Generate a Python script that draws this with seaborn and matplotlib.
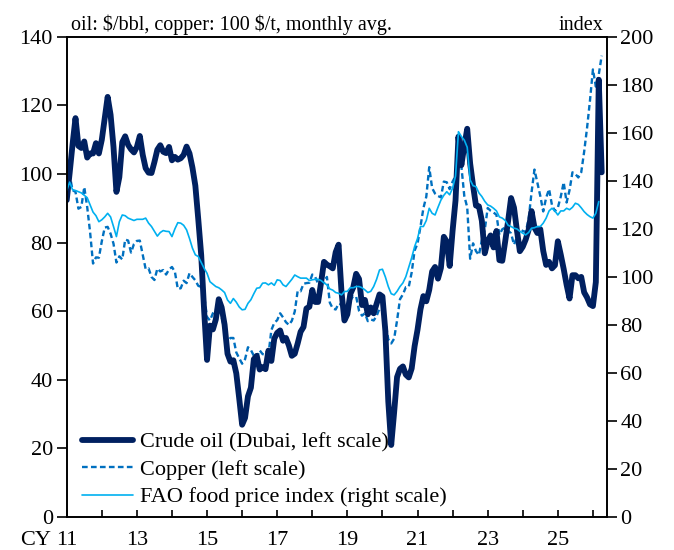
import numpy as np
import pandas as pd
import matplotlib
matplotlib.use("Agg")
import matplotlib.pyplot as plt
import seaborn as sns

# monthly averages, Jan 2011 onwards
# crude oil, Dubai ($/bbl)
oil = [
    92.4, 100.3, 108.7, 116.3, 108.2, 107.6, 109.5, 104.8, 106.0, 106.0, 109.0, 106.0,   # 2011
    110.0, 116.2, 122.5, 117.3, 107.9, 94.8, 99.1, 109.3, 111.0, 108.5, 107.2, 106.3,    # 2012
    107.9, 111.1, 105.6, 101.7, 100.4, 100.3, 103.5, 107.1, 108.4, 106.5, 106.1, 107.9,  # 2013
    104.0, 105.0, 104.2, 104.6, 105.6, 108.0, 106.0, 101.9, 96.6, 86.8, 76.4, 60.3,      # 2014
    45.8, 55.8, 54.7, 57.6, 63.5, 61.1, 56.1, 47.6, 45.3, 45.7, 41.9, 34.6,              # 2015
    26.9, 28.9, 35.2, 37.7, 46.0, 47.0, 43.0, 43.7, 43.1, 48.5, 45.5, 52.0,              # 2016
    53.7, 54.4, 51.4, 52.2, 50.0, 47.0, 47.6, 50.6, 54.0, 55.4, 60.8, 61.3,              # 2017
    66.2, 62.7, 62.7, 68.3, 74.4, 73.6, 73.1, 72.5, 77.2, 79.4, 65.6, 57.3,              # 2018
    59.1, 65.0, 66.9, 70.9, 69.4, 61.8, 63.3, 59.1, 61.1, 59.4, 62.1, 64.9,              # 2019
    64.3, 54.2, 33.7, 21.0, 30.5, 40.8, 43.2, 43.9, 41.5, 40.7, 43.3, 49.8,              # 2020
    54.6, 60.5, 64.4, 62.9, 66.2, 71.6, 72.9, 69.5, 72.6, 81.7, 80.3, 73.2,              # 2021
    83.5, 92.3, 110.9, 102.6, 108.2, 113.2, 103.1, 96.6, 90.8, 90.6, 86.4, 76.9,         # 2022
    80.4, 82.1, 78.6, 83.4, 74.9, 74.7, 80.4, 86.4, 93.0, 90.2, 83.6, 77.5,              # 2023
    78.8, 80.9, 83.7, 89.2, 84.4, 82.8, 83.9, 77.6, 73.5, 74.4, 72.5, 73.4,              # 2024
    80.4, 76.5, 72.3, 67.7, 63.7, 70.5, 70.5, 69.6, 70.0, 65.5, 64.0, 62.0,              # 2025
    61.5, 68.5, 127.5, 100.5,                                                            # 2026
]

# copper (100 $/t)
copper = [
    96.5, 99.7, 95.3, 94.8, 89.9, 90.4, 96.2, 90.4, 83.0, 73.9, 75.7, 75.6,
    80.4, 84.4, 84.6, 82.6, 79.7, 74.2, 76.0, 75.1, 80.9, 80.6, 77.1, 79.6,
    80.5, 80.6, 76.5, 72.3, 72.5, 70.0, 69.1, 72.4, 71.6, 72.0, 70.7, 72.2,
    72.9, 71.5, 66.5, 66.7, 68.9, 68.2, 71.1, 70.0, 69.0, 67.4, 67.1, 64.5,
    58.3, 57.3, 59.4, 60.4, 63.0, 58.3, 54.6, 51.3, 52.2, 52.2, 48.0, 46.3,
    44.7, 46.0, 49.5, 48.7, 47.0, 46.4, 48.6, 47.5, 47.2, 47.3, 54.5, 56.6,
    57.4, 59.4, 58.2, 56.8, 56.0, 57.2, 59.9, 65.9, 65.8, 68.0, 68.2, 68.3,
    70.7, 70.0, 68.0, 68.5, 68.3, 70.0, 62.5, 60.8, 60.5, 62.2, 61.9, 61.5,
    59.3, 63.1, 64.4, 64.3, 60.1, 58.7, 59.4, 57.1, 57.6, 57.3, 58.6, 60.8,
    60.3, 56.9, 51.8, 50.6, 52.0, 57.3, 63.5, 64.9, 67.0, 67.1, 71.3, 77.7,
    79.7, 84.6, 90.0, 93.4, 102.0, 95.9, 94.3, 93.6, 93.2, 97.8, 97.6, 95.6,
    97.8, 99.4, 101.6, 102.3, 93.6, 90.3, 75.3, 79.8, 77.5, 76.4, 80.7, 83.7,
    90.1, 89.3, 88.8, 88.1, 82.3, 83.9, 84.4, 83.5, 82.7, 79.4, 81.6, 83.9,
    83.4, 83.1, 86.8, 94.6, 101.3, 97.5, 93.6, 89.1, 93.1, 95.6, 90.9, 89.2,
    90.2, 93.4, 97.6, 91.7, 95.3, 100.5, 100.0, 99.0, 100.5, 106.5, 113.5, 121.5,
    130.5, 125.5, 129.0, 134.5,
]

# FAO food price index
food = [
    136.0, 139.5, 136.3, 136.0, 135.5, 135.0, 134.0, 133.0, 130.0, 127.0, 125.5, 123.0,
    123.8, 125.0, 126.5, 125.0, 121.0, 116.8, 123.0, 125.8, 125.5, 124.5, 124.0, 123.5,
    124.0, 124.0, 124.0, 124.5, 122.4, 121.0, 119.0, 117.0, 118.5, 119.3, 119.0, 118.9,
    116.8, 120.0, 122.6, 122.4, 121.5, 119.6, 116.0, 112.0, 109.2, 108.5, 106.0, 103.6,
    101.5, 98.0, 97.0, 96.0, 95.5, 94.6, 93.5, 90.4, 89.0, 91.0, 89.5, 87.5,
    86.3, 86.5, 89.0, 90.5, 93.0, 95.3, 95.5, 97.4, 97.5, 96.7, 97.5, 96.5,
    98.8, 98.5, 96.7, 96.0, 97.5, 99.0, 100.8, 100.1, 99.5, 99.5, 99.5, 98.5,
    98.8, 99.0, 99.0, 98.5, 97.5, 96.7, 95.0, 94.5, 93.5, 93.2, 92.5, 93.9,
    94.0, 95.5, 95.5, 96.0, 96.0, 95.5, 94.6, 93.5, 94.0, 96.0, 99.0, 102.9,
    103.2, 100.0, 96.0, 93.0, 92.5, 94.0, 96.0, 97.5, 100.1, 104.0, 108.0, 112.6,
    116.0, 121.0, 121.0, 123.5, 128.6, 126.5, 125.8, 129.0, 132.0, 134.0, 135.5, 134.2,
    137.0, 142.0, 160.5, 158.5, 157.0, 154.0, 140.4, 138.0, 137.6, 135.0, 133.5, 131.5,
    130.0, 129.5, 128.6, 127.5, 125.0, 124.5, 123.5, 121.5, 121.0, 120.3, 120.0, 119.0,
    118.2, 117.5, 118.5, 120.3, 120.5, 121.0, 121.0, 122.4, 124.5, 127.5, 128.6, 127.5,
    125.8, 127.5, 127.5, 128.6, 128.0, 129.0, 130.7, 130.2, 128.8, 127.2, 126.0, 125.1,
    124.5, 126.5, 131.4,
]

left_ticks = list(range(0, 141, 20))
right_ticks = list(range(0, 201, 20))
years = list(range(2011, 2027))
year_labels = ["11", "", "13", "", "15", "", "17", "", "19", "", "21", "", "23", "", "25", ""]

navy = "#002060"
mid_blue = "#0070C0"
light_blue = "#00B0F0"

oil_df = pd.DataFrame({"t": 2011 + np.arange(len(oil)) / 12, "v": oil})
cu_df = pd.DataFrame({"t": 2011 + np.arange(len(copper)) / 12, "v": copper})
food_df = pd.DataFrame({"t": 2011 + np.arange(len(food)) / 12, "v": food})

sns.set_theme(style="ticks")
plt.rcParams["font.family"] = ["Liberation Serif", "DejaVu Serif"]
plt.rcParams["axes.linewidth"] = 1.2
plt.rcParams["text.color"] = "black"

fig = plt.figure(figsize=(6.74, 5.5), dpi=100)
ax = fig.add_axes([0.099, 0.06, 0.801, 0.873])
ax2 = ax.twinx()

sns.lineplot(data=cu_df, x="t", y="v", ax=ax, color=mid_blue, lw=1.7,
             linestyle=(0, (2.4, 1.4)), label="Copper (left scale)", legend=False)
sns.lineplot(data=oil_df, x="t", y="v", ax=ax, color=navy, lw=4.2,
             label="Crude oil (Dubai, left scale)", legend=False)
sns.lineplot(data=food_df, x="t", y="v", ax=ax2, color=light_blue, lw=1.2,
             label="FAO food price index (right scale)", legend=False)

ax.set_xlim(2011, 2026.39)
ax.set_ylim(0, 140)
ax2.set_ylim(0, 200)
ax.set_yticks(left_ticks)
ax2.set_yticks(right_ticks)
ax.set_xticks(years)
ax.set_xticklabels(year_labels)
for a in (ax, ax2):
    a.set_xlabel("")
    a.set_ylabel("")
    for s in a.spines.values():
        s.set_visible(True)
        s.set_color("black")
        s.set_linewidth(1.2)
ax.tick_params(axis="y", direction="out", length=7, width=1.2, labelsize=16, pad=3, colors="black")
ax2.tick_params(axis="y", direction="out", length=7, width=1.2, labelsize=16, pad=3, colors="black")
xpad = 10
ax.tick_params(axis="x", direction="in", length=5, width=1.2, labelsize=16, pad=xpad, colors="black")

ax.annotate("CY", xy=(2011, 0), xycoords=("data", "axes fraction"),
            xytext=(-11, -xpad), textcoords="offset points",
            ha="right", va="top", fontsize=16, color="black")
ax.text(0.007, 1.014, "oil: $/bbl, copper: 100 $/t, monthly avg.", transform=ax.transAxes,
        ha="left", va="baseline", fontsize=14.5, parse_math=False, color="black")
ax.text(0.995, 1.014, "index", transform=ax.transAxes, ha="right", va="baseline",
        fontsize=14.5, color="black")

h1, l1 = ax.get_legend_handles_labels()
h2, l2 = ax2.get_legend_handles_labels()
handles = [h1[1], h1[0], h2[0]]
labels = [l1[1], l1[0], l2[0]]
leg = ax2.legend(handles, labels, loc="lower left", bbox_to_anchor=(0.028, 0.02), frameon=False,
                 fontsize=16, handlelength=2.3, handletextpad=0.3, labelspacing=0.3,
                 borderpad=0, borderaxespad=0)
for t in leg.get_texts():
    t.set_color("black")

fig.savefig("out.png", dpi=100)
